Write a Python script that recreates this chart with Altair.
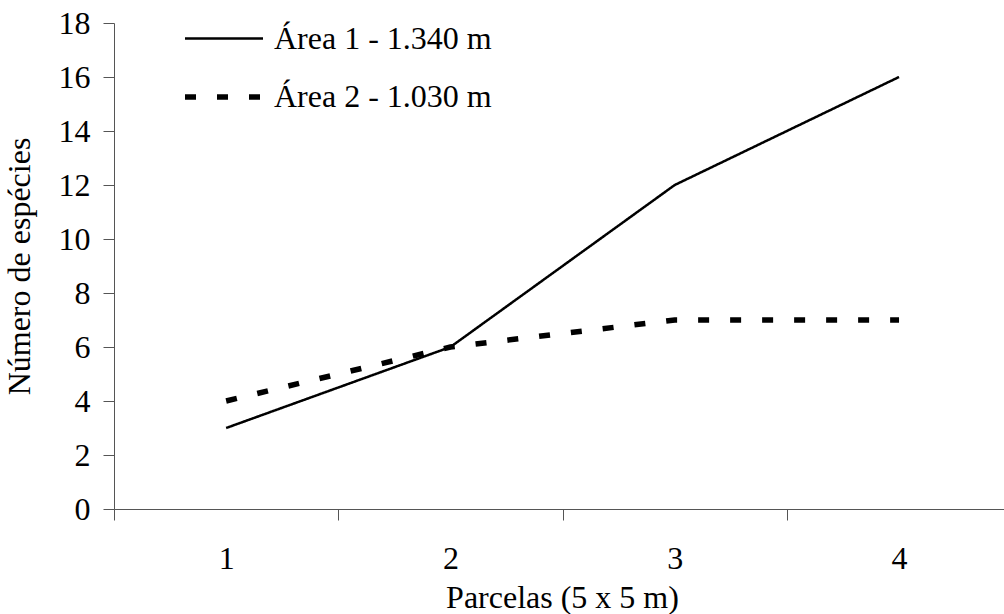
import altair as alt
import pandas as pd

parcelas = [1, 2, 3, 4]
area1 = [3, 6, 12, 16]
area2 = [4, 6, 7, 7]
series = ["Área 1 - 1.340 m", "Área 2 - 1.030 m"]
x_tick_values = [0.5, 1, 1.5, 2, 2.5, 3, 3.5, 4]
y_tick_values = [0, 2, 4, 6, 8, 10, 12, 14, 16, 18]

rows = []
for p, a, b in zip(parcelas, area1, area2):
    rows.append({"parcela": p, "especies": a, "serie": series[0]})
    rows.append({"parcela": p, "especies": b, "serie": series[1]})
df = pd.DataFrame(rows)

FONT = "Liberation Serif"
AXC = "#555555"

legend = alt.Legend(
    orient="none", legendX=68, legendY=-25, title=None,
    labelFont=FONT, labelFontSize=32, labelColor="black", labelLimit=400,
    symbolType="stroke", symbolSize=6084, labelOffset=8,
    rowPadding=-35, padding=0, symbolStrokeColor="black",
)

chart = alt.Chart(df).mark_line(strokeCap="butt", color="black", clip=True).encode(
    x=alt.X(
        "parcela:Q",
        scale=alt.Scale(domain=[0.5, 4.468], nice=False, zero=False),
        axis=alt.Axis(
            values=x_tick_values,
            labelExpr="datum.value % 1 === 0 ? format(datum.value, 'd') : ''",
            tickOpacity={"condition": {"test": "datum.value % 1 === 0", "value": 0}, "value": 1},
            title="Parcelas (5 x 5 m)", titleX=448, titleY=98, titleBaseline="alphabetic",
            titleFont=FONT, titleFontSize=32, titleFontWeight="normal", titleColor="black",
            labelFont=FONT, labelFontSize=32, labelColor="black",
            labelBaseline="alphabetic", labelPadding=48, labelFlush=False,
            tickSize=11, tickColor=AXC, domainColor=AXC, grid=False,
        ),
    ),
    y=alt.Y(
        "especies:Q",
        scale=alt.Scale(domain=[0, 18], nice=False),
        axis=alt.Axis(
            values=y_tick_values,
            title="Número de espécies", titleX=-85, titleBaseline="alphabetic",
            titleFont=FONT, titleFontSize=32, titleFontWeight="normal", titleColor="black",
            labelFont=FONT, labelFontSize=32, labelColor="black", labelPadding=13,
            tickSize=11, tickColor=AXC, domainColor=AXC, grid=False,
        ),
    ),
    strokeDash=alt.StrokeDash(
        "serie:N", scale=alt.Scale(domain=series, range=[[1, 0], [11, 21]]), legend=legend
    ),
    strokeWidth=alt.StrokeWidth(
        "serie:N", scale=alt.Scale(domain=series, range=[2.5, 5.5]), legend=legend
    ),
).properties(
    width=890, height=486,
    autosize="none",
    padding={"left": 114, "top": 23, "right": 0, "bottom": 105},
).configure_view(stroke=None)

chart.save("out.html", embed_options={"renderer": "svg", "actions": False})
